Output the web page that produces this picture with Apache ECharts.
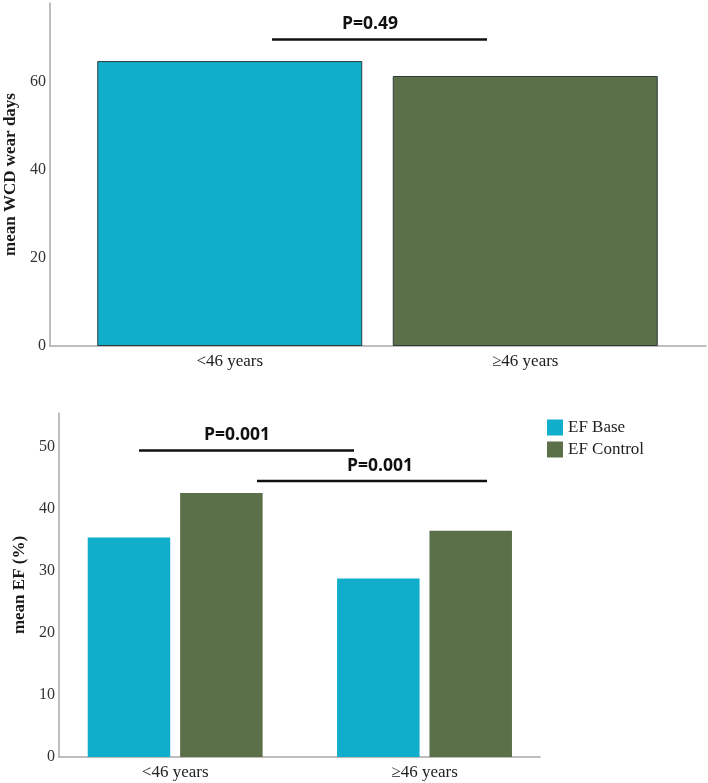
<!DOCTYPE html>
<html>
<head>
<meta charset="utf-8">
<script src="https://cdn.jsdelivr.net/npm/echarts@6/dist/echarts.min.js"></script>
<style>
html,body{margin:0;padding:0;background:#fff;}
#chart{width:708px;height:783px;}
</style>
</head>
<body>
<div id="chart"></div>
<script>
// ---- data ----
const categories = ['<46 years', '\u226546 years'];
const wearDays = [64.8, 61.4];
const efBase = [35.4, 28.8];
const efControl = [42.6, 36.5];
const wearTicks = [0, 20, 40, 60];
const efTicks = [0, 10, 20, 30, 40, 50];
const seriesNames = ['EF Base', 'EF Control'];
const pTop = 'P=0.49';
const pBottom = ['P=0.001', 'P=0.001'];

// ---- styles ----
const CYAN = '#10aeca';
const GREEN = '#5b7048';
const AXIS = '#a8a8a8';
const SERIF = '"Liberation Serif", "Times New Roman", serif';
const SANS = '"Open Sans", "Noto Sans", sans-serif';

const chart = echarts.init(document.getElementById('chart'), null, {renderer: 'canvas'});

const frameY = (max, ticks, name, gridIndex, gap) => ({
  type: 'value', gridIndex, min: 0, max,
  name, nameLocation: 'middle', nameGap: gap,
  nameTextStyle: {fontFamily: SERIF, fontWeight: 'bold', fontSize: 17, color: '#1a1a1a'},
  axisLine: {show: true, lineStyle: {color: AXIS, width: 1.5}},
  axisTick: {show: false},
  splitLine: {show: false},
  axisLabel: {customValues: ticks, fontFamily: SERIF, fontSize: 16, color: '#333', margin: 4}
});
const hiddenY = (max, gridIndex) => ({
  type: 'value', gridIndex, min: 0, max, show: false, splitLine: {show: false}
});
const frameX = (gridIndex) => ({
  type: 'value', gridIndex, min: 0, max: 1,
  axisLine: {show: true, onZero: false, lineStyle: {color: AXIS, width: 1.5}},
  axisTick: {show: false}, axisLabel: {show: false}, splitLine: {show: false}
});
const catX = (gridIndex) => ({
  type: 'category', gridIndex, data: categories,
  axisLine: {show: false}, axisTick: {show: false},
  axisLabel: {fontFamily: SERIF, fontSize: 17, color: '#222', margin: 7}
});

const G = {outerBoundsMode: 'none', containLabel: false};
const option = {
  backgroundColor: '#fff',
  animation: false,
  grid: [
    Object.assign({left: 50, right: 2, top: 3, bottom: 437}, G),
    Object.assign({left: 82, width: 591, top: 3, bottom: 437}, G),
    Object.assign({left: 59, right: 168, top: 413, bottom: 26}, G),
    Object.assign({left: 50.5, width: 498.7, top: 413, bottom: 26}, G)
  ],
  xAxis: [frameX(0), catX(1), frameX(2), catX(3)],
  yAxis: [
    frameY(78, wearTicks, 'mean WCD wear days', 0, 30),
    hiddenY(78, 1),
    frameY(55.5, efTicks, 'mean EF (%)', 2, 28),
    hiddenY(55.5, 3)
  ],
  legend: {
    data: seriesNames,
    orient: 'vertical', left: 542, top: 414,
    itemWidth: 16, itemHeight: 16, itemGap: 5, icon: 'rect',
    textStyle: {fontFamily: SERIF, fontSize: 17, color: '#222'}
  },
  series: [
    {
      type: 'bar', xAxisIndex: 1, yAxisIndex: 1,
      barWidth: 265,
      data: wearDays.map((v, i) => ({value: v, itemStyle: {color: i === 0 ? CYAN : GREEN}})),
      itemStyle: {borderColor: '#2e3c3a', borderWidth: 1}
    },
    {
      name: seriesNames[0], type: 'bar', xAxisIndex: 3, yAxisIndex: 3,
      barWidth: 82.5, barGap: '12%',
      data: efBase, itemStyle: {color: CYAN}
    },
    {
      name: seriesNames[1], type: 'bar', xAxisIndex: 3, yAxisIndex: 3,
      barWidth: 82.5, barGap: '12%',
      data: efControl, itemStyle: {color: GREEN}
    }
  ],
  graphic: [
    {type: 'text', x: 370, y: 24, style: {text: pTop, font: 'bold 17.5px ' + SANS, fill: '#111', align: 'center', verticalAlign: 'middle'}},
    {type: 'line', shape: {x1: 272, y1: 39.5, x2: 487, y2: 39.5}, style: {stroke: '#111', lineWidth: 2.5}},
    {type: 'text', x: 237, y: 435, style: {text: pBottom[0], font: 'bold 17.5px ' + SANS, fill: '#111', align: 'center', verticalAlign: 'middle'}},
    {type: 'line', shape: {x1: 139, y1: 450.5, x2: 354, y2: 450.5}, style: {stroke: '#111', lineWidth: 2.5}},
    {type: 'text', x: 380, y: 466, style: {text: pBottom[1], font: 'bold 17.5px ' + SANS, fill: '#111', align: 'center', verticalAlign: 'middle'}},
    {type: 'line', shape: {x1: 257, y1: 481, x2: 487, y2: 481}, style: {stroke: '#111', lineWidth: 2.5}}
  ]
};
chart.setOption(option);
</script>
</body>
</html>
